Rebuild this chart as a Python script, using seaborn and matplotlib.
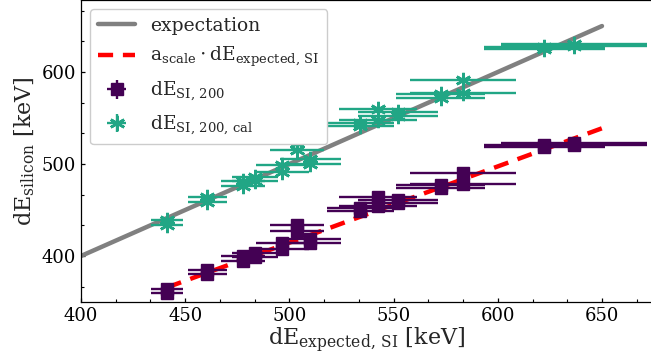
import numpy as np
import matplotlib
matplotlib.use("Agg")
import matplotlib.pyplot as plt
from matplotlib.ticker import AutoMinorLocator, MultipleLocator
import seaborn as sns
import pandas as pd

# Expected energy deposit per bin (keV) and its horizontal uncertainty
dE_expected = [441.2, 460.7, 477.7, 483.3, 496.5, 503.7, 510.1,
               534.1, 542.5, 552.1, 572.6, 583.3, 622.3, 636.4]
dE_expected_err = [7.6, 9.2, 10.4, 11.0, 12.7, 12.8, 14.6,
                   16.0, 18.6, 19.2, 21.4, 25.2, 29.0, 35.0]

# Two silicon readings per bin, before calibration (keV)
dE_si200_a = [359.8, 380.5, 394.6, 398.7, 407.5, 426.9, 414.5,
              448.5, 454.1, 457.6, 474.2, 478.3, 518.1, 520.6]
dE_si200_b = [363.7, 384.7, 399.6, 402.9, 413.7, 433.2, 418.6,
              451.8, 463.8, 460.9, 477.5, 489.9, 520.2, 522.6]

# The same readings after calibration (keV)
dE_si200_cal_a = [434.0, 459.0, 476.0, 481.0, 491.6, 515.0, 500.0,
                  541.0, 547.8, 552.0, 572.0, 577.0, 625.0, 628.0]
dE_si200_cal_b = [438.7, 464.0, 482.0, 486.0, 499.0, 522.5, 505.0,
                  545.0, 559.5, 556.0, 576.0, 591.0, 627.5, 630.4]

dE_si_err = 3.0
a_scale = 0.829
line_end = 650.0

sns.set_style("ticks")
plt.rcParams["font.family"] = ["DejaVu Serif"]
plt.rcParams["mathtext.fontset"] = "dejavuserif"

W, H = 651, 358
fig = plt.figure(figsize=(W / 100, H / 100), dpi=100)
ax = fig.add_axes([81 / W, (H - 301.7) / H, (652 - 81) / W, 301.7 / H])

c_raw = "#440154"
c_cal = "#21a685"

# reference lines
x_exp = np.array([400.0, line_end])
x_fit = np.array([min(dE_expected), line_end])
lines = pd.DataFrame({
    "x": np.concatenate([x_exp, x_fit]),
    "y": np.concatenate([x_exp, a_scale * x_fit]),
    "kind": ["expectation"] * 2 + ["scaled"] * 2,
})
sns.lineplot(data=lines[lines.kind == "expectation"], x="x", y="y", ax=ax,
             color="grey", lw=3.2, label="expectation")
sns.lineplot(data=lines[lines.kind == "scaled"], x="x", y="y", ax=ax,
             color="red", lw=3.2, ls=(0, (3.4, 2.2)),
             label=r"$\mathrm{a_{scale}\cdot dE_{expected,\,SI}}$")

xs = np.array(dE_expected * 2)
xe = np.array(dE_expected_err * 2)
raw = np.array(dE_si200_a + dE_si200_b)
cal = np.array(dE_si200_cal_a + dE_si200_cal_b)

ax.errorbar(xs, raw, xerr=xe, yerr=dE_si_err, fmt="s", color=c_raw,
            ms=8.0, elinewidth=1.7, capsize=0,
            label=r"$\mathrm{dE_{SI,\,200}}$")
ax.errorbar(xs, cal, xerr=xe, yerr=dE_si_err, ls="none",
            marker=(6, 2, 0), ms=11, mew=1.9, color=c_cal,
            elinewidth=1.7, capsize=0,
            label=r"$\mathrm{dE_{SI,\,200,\,cal}}$")

ax.set_xlim(400, 400 + (652 - 81) / 2.084)
ax.set_ylim(350.3, 678.3)
ax.xaxis.set_major_locator(MultipleLocator(50))
ax.yaxis.set_major_locator(MultipleLocator(100))
ax.xaxis.set_minor_locator(AutoMinorLocator(3))
ax.yaxis.set_minor_locator(AutoMinorLocator(3))
ax.tick_params(which="both", direction="in", labelsize=13, colors="black")
ax.tick_params(which="major", length=3, width=0.9)
ax.tick_params(which="minor", length=2, width=0.8)
for s in ax.spines.values():
    s.set_color("black")
    s.set_linewidth(0.9)

ax.set_xlabel(r"$\mathrm{dE_{expected,\,SI}}$ [keV]", fontsize=16, labelpad=1)
ax.set_ylabel(r"$\mathrm{dE_{silicon}}$ [keV]", fontsize=16, labelpad=3)

leg = ax.legend(loc="upper left", fontsize=13.5, frameon=True,
                fancybox=True, edgecolor="#cccccc", framealpha=1.0,
                labelspacing=0.55)

fig.savefig("out.png", dpi=100)
